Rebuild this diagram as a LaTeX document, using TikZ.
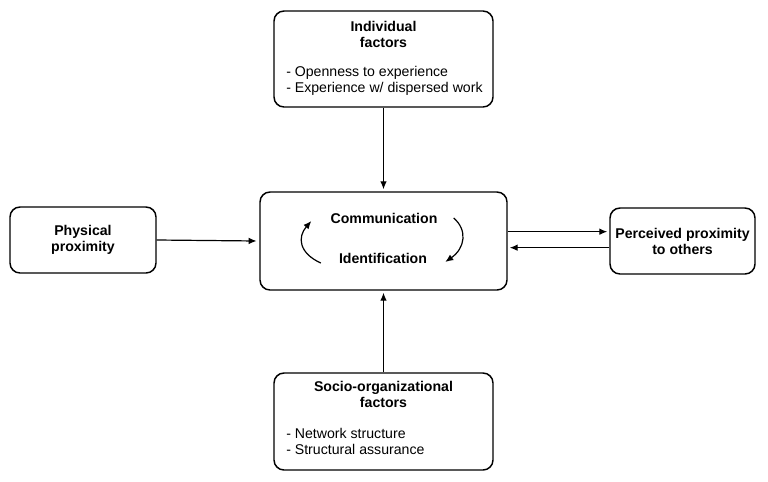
\documentclass[tikz,border=0pt]{standalone}
\usepackage{fontspec}
\setmainfont{Liberation Sans}
\usetikzlibrary{arrows.meta}

\begin{document}
\begin{tikzpicture}[x=0.75pt,y=0.75pt,yscale=-1,xscale=1,
  every node/.style={font=\fontsize{10.6}{12}\selectfont},
  roundbox/.style={draw, line width=1.1pt, rounded corners=7.5pt, inner sep=0pt, align=center},
  boldtext/.style={font=\fontsize{10.6}{12}\selectfont\bfseries, align=center, inner sep=0pt},
  listtext/.style={anchor=north west, align=left, inner sep=0pt},
  flow/.style={line width=0.9pt, -{Latex[length=6pt,width=5pt]}},
  cycle/.style={line width=0.9pt, -{Latex[length=6pt,width=5pt]}}]
\useasboundingbox (0,0) rectangle (768,482);

% Boxes
\node (indiv) [roundbox, minimum width=164.25pt, minimum height=72pt] at (383.5,59) {};
\node (hub) [roundbox, minimum width=185.25pt, minimum height=73.5pt] at (383.5,241) {};
\node (socio) [roundbox, minimum width=164.25pt, minimum height=72.75pt] at (383.5,421.5) {};
\node (phys) [roundbox, minimum width=109.5pt, minimum height=49.5pt, font=\fontsize{10.6}{12}\selectfont\bfseries] at (83,240) {Physical\\proximity};
\node (perc) [roundbox, minimum width=108.75pt, minimum height=49.5pt, font=\fontsize{10.6}{12}\selectfont\bfseries] at (682.5,241) {Perceived proximity\\to others};

% Text in the factor boxes
\node (indivtitle) [boldtext] at (383.5,34) {Individual\\factors};
\node (indivlist) [listtext] at (286,66) {- Openness to experience\\- Experience w/ dispersed work};
\node (sociotitle) [boldtext] at (383.5,394) {Socio-organizational\\factors};
\node (sociolist) [listtext] at (286,428) {- Network structure\\- Structural assurance};

% Text in the center box
\node (comm) [boldtext] at (384,218) {Communication};
\node (ident) [boldtext] at (383,258) {Identification};

% Arrows
\draw [flow] (indiv.south) -- ([yshift=-1.5pt]hub.north);
\draw [flow] (socio.north) -- ([yshift=1.5pt]hub.south);
\draw [flow] (phys.east) -- ([xshift=-2pt]hub.west);
\draw [flow] ([yshift=-7pt]hub.east) -- ([xshift=-1.5pt,yshift=-7pt]hub.east -| perc.west);
\draw [flow] ([yshift=5pt]perc.west) -- ([xshift=1.5pt,yshift=5pt]perc.west -| hub.east);

% Cycle arrows
\draw [cycle] ([shift={(-18,5)}]ident.west) .. controls +(-22,-10) and +(-14,16) .. ([shift={(-19,3)}]comm.west);
\draw [cycle] ([shift={(16,0)}]comm.east) .. controls +(14,12) and +(20,-14) .. ([shift={(18,4)}]ident.east);

\end{tikzpicture}
\end{document}
